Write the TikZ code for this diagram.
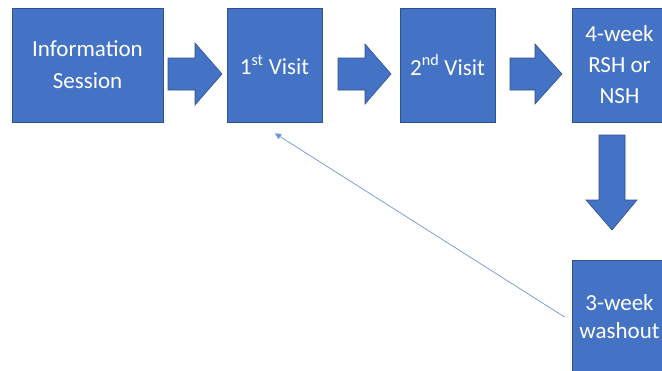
\documentclass[tikz,border=0pt]{standalone}
\usepackage{fontspec}
\setmainfont{Carlito}
\usetikzlibrary{calc,arrows.meta}
\definecolor{boxblue}{HTML}{4472C4}
\definecolor{edgeblue}{HTML}{2F528F}
\definecolor{linkblue}{HTML}{6F96D8}
\tikzset{
  stagebox/.style={rectangle, fill=boxblue, draw=edgeblue, line width=0.8pt,
    minimum height=114pt, inner sep=0pt, text=white, align=center,
    font=\fontsize{23}{32}\selectfont},
  blockarrow/.style={fill=boxblue, draw=edgeblue, line width=0.6pt},
  backlink/.style={draw=linkblue, line width=0.7pt, -{Triangle[length=6pt,width=6pt]}}
}
\begin{document}
\begin{tikzpicture}[x=1pt,y=-1pt]
\useasboundingbox (0,0) rectangle (662,370);
\begin{scope}
\clip (0,0) rectangle (662,370);
\node[stagebox, minimum width=151pt] (b1) at (87.5,65) {Information\\Session};
\node[stagebox, minimum width=95pt] (b2) at (274.5,65) {1\textsuperscript{st} Visit};
\node[stagebox, minimum width=95pt] (b3) at (447.5,65) {2\textsuperscript{nd} Visit};
\node[stagebox, minimum width=95pt, font=\fontsize{23}{31}\selectfont] (b4) at (619.5,65) {4-week\\RSH or\\NSH};
\node[stagebox, minimum width=95pt, font=\fontsize{23}{28}\selectfont] (b5) at (619.5,317) {3-week\\washout};
% block arrows
\draw[blockarrow] (168,58) -- (195,58) -- (195,43) -- (222,74) -- (195,105) -- (195,90) -- (168,90) -- cycle;
\draw[blockarrow] (338,58) -- (365,58) -- (365,44) -- (391,74) -- (365,104) -- (365,90) -- (338,90) -- cycle;
\draw[blockarrow] (510,58) -- (535,58) -- (535,44) -- (562,74) -- (535,104) -- (535,90) -- (510,90) -- cycle;
\draw[blockarrow] (599,135) -- (625,135) -- (625,200) -- (637,200) -- (612,230) -- (586,200) -- (599,200) -- cycle;
% feedback link
\coordinate (linkstart) at ($(b5.west)+(-7,0)$);
\coordinate (linkend) at ($(b2.south)+(0.5,11)$);
\draw[backlink] (linkstart) -- (linkend);
\end{scope}
\end{tikzpicture}
\end{document}
